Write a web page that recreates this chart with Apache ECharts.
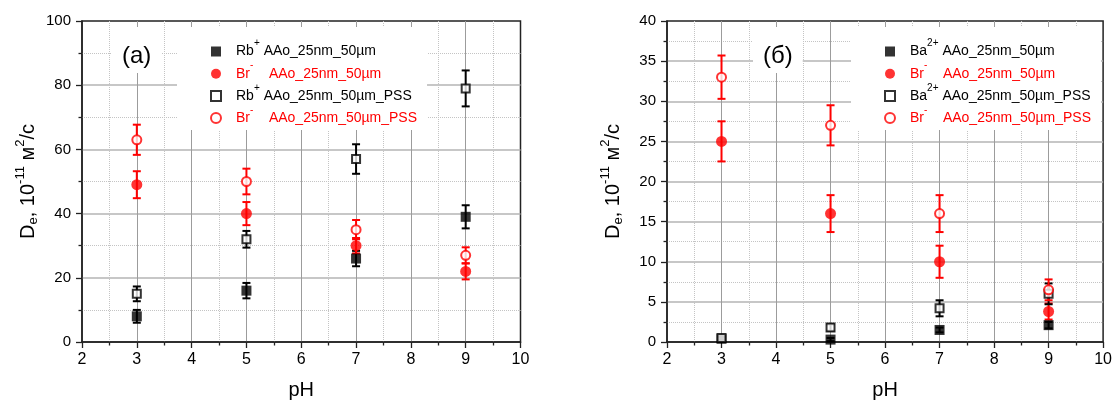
<!DOCTYPE html>
<html>
<head>
<meta charset="utf-8">
<script src="https://cdn.jsdelivr.net/npm/echarts@6/dist/echarts.min.js"></script>
<style>html,body{margin:0;padding:0;background:#fff;}#c{width:1115px;height:405px;}</style>
</head>
<body>
<div id="c"></div>
<script>
// ---- data ----
const pH = [3, 5, 7, 9];
const xTicks = [2, 3, 4, 5, 6, 7, 8, 9, 10];

// panel (a)
const namesA = ['Rb+ AAo_25nm_50µm', 'Br- AAo_25nm_50µm', 'Rb+ AAo_25nm_50µm_PSS', 'Br- AAo_25nm_50µm_PSS'];
const rbA = [8, 16, 26, 39];
const rbAErr = [2, 2.4, 2.4, 3.6];
const brA = [49, 40, 30, 22];
const brAErr = [4.2, 3.6, 2.4, 2.5];
const rbPssA = [15, 32, 57, 79];
const rbPssAErr = [2.3, 2.6, 4.6, 5.6];
const brPssA = [63, 50, 35, 27];
const brPssAErr = [4.7, 4, 3, 2.5];

// panel (б)
const namesB = ['Ba2+ AAo_25nm_50µm', 'Br- AAo_25nm_50µm ', 'Ba2+ AAo_25nm_50µm_PSS', 'Br- AAo_25nm_50µm_PSS '];
const baB = [0.4, 0.3, 1.5, 2.1];
const baBErr = [0.2, 0.2, 0.3, 0.4];
const brB = [25, 16, 10, 3.8];
const brBErr = [2.5, 2.3, 2, 1];
const baPssB = [0.5, 1.8, 4.2, 6.0];
const baPssBErr = [0.2, 0.4, 1, 1.3];
const brPssB = [33, 27, 16, 6.5];
const brPssBErr = [2.7, 2.5, 2.3, 1.3];

const F = '"Liberation Sans", Arial, sans-serif';
const RED = '#ff0000';
const BLK = '#000000';

function pts(v) { return pH.map((x, i) => [x, v[i]]); }
function errs(v, e) { return pH.map((x, i) => [x, v[i] - e[i], v[i] + e[i]]); }

function errRender(color) {
  return function (params, api) {
    const x = api.value(0), lo = api.value(1), hi = api.value(2);
    const a = api.coord([x, hi]);
    const b = api.coord([x, lo]);
    const w = 4;
    const st = { stroke: color, lineWidth: 2 };
    return {
      type: 'group',
      children: [
        { type: 'line', shape: { x1: a[0], y1: a[1], x2: b[0], y2: b[1] }, style: st },
        { type: 'line', shape: { x1: a[0] - w, y1: a[1], x2: a[0] + w, y2: a[1] }, style: st },
        { type: 'line', shape: { x1: b[0] - w, y1: b[1], x2: b[0] + w, y2: b[1] }, style: st }
      ]
    };
  };
}

const styles = [
  { symbol: 'rect', size: 10, itemStyle: { color: BLK }, err: BLK },
  { symbol: 'circle', size: 11, itemStyle: { color: RED }, err: RED },
  { symbol: 'rect', size: 8, itemStyle: { color: '#fff', borderColor: BLK, borderWidth: 2 }, err: BLK },
  { symbol: 'circle', size: 9, itemStyle: { color: '#fff', borderColor: RED, borderWidth: 2 }, err: RED }
];

function makeSeries(gi, names, vals, errsArr) {
  const out = [];
  vals.forEach((v, k) => {
    const s = styles[k];
    out.push({
      type: 'custom', name: 'err' + gi + k, xAxisIndex: gi, yAxisIndex: gi,
      renderItem: errRender(s.err), data: errs(v, errsArr[k]), z: 2,
      encode: { x: 0, y: [1, 2] }, silent: true
    });
    out.push({
      type: 'scatter', name: names[k], xAxisIndex: gi, yAxisIndex: gi,
      symbol: s.symbol, symbolSize: s.size, itemStyle: s.itemStyle,
      data: pts(v), z: 3, silent: true
    });
  });
  return out;
}

function legendFmt(name) {
  const t = name.trim();
  const sp = t.indexOf(' ');
  const ion = t.slice(0, sp);
  const rest = t.slice(sp + 1);
  const m = ion.match(/^([A-Za-z]+)(.*)$/);
  const red = m[1] === 'Br';
  const a = red ? 'r' : 'k';
  const gap = red ? '    ' : ' ';
  return '{' + a + '0|' + m[1] + '}{' + a + 's|' + m[2] + '}{' + a + '|' + gap + rest + '}';
}

const LFS = 14;
const legendRich = {
  k0: { fontSize: LFS, color: BLK, padding: [4, 0, 4, 10], fontFamily: F },
  k: { fontSize: LFS, color: BLK, padding: [4, 0, 4, 0], fontFamily: F },
  ks: { fontSize: 10, color: BLK, height: 6, verticalAlign: 'top', fontFamily: F },
  r0: { fontSize: LFS, color: RED, padding: [4, 0, 4, 10], fontFamily: F },
  r: { fontSize: LFS, color: RED, padding: [4, 0, 4, 0], fontFamily: F },
  rs: { fontSize: 10, color: RED, height: 6, verticalAlign: 'top', fontFamily: F }
};

function makeLegend(names, left) {
  return {
    orient: 'vertical', left: left, top: 27,
    backgroundColor: '#fff',
    padding: [11.5, 10, 5, 33],
    itemWidth: 10, itemHeight: 10, itemGap: 2.2,
    selectedMode: false,
    formatter: legendFmt,
    textStyle: { rich: legendRich, fontFamily: F },
    data: names.map((n, k) => ({
      name: n,
      icon: styles[k].symbol,
      itemStyle: styles[k].itemStyle
    }))
  };
}

const yName = '{m|D}{sub|e}{m|, 10}{sup|-11}{m| м}{sup|2}{m|/с}';
const yNameStyle = {
  rich: {
    m: { fontSize: 20, color: BLK, padding: [6, 0, 6, 0], fontFamily: F },
    sub: { fontSize: 13, color: BLK, height: 22, verticalAlign: 'bottom', fontFamily: F },
    sup: { fontSize: 13, color: BLK, height: 16, verticalAlign: 'top', fontFamily: F }
  }
};

function xAxisCfg(gi) {
  return {
    type: 'value', gridIndex: gi, min: xTicks[0], max: xTicks[xTicks.length - 1], interval: 1,
    name: 'pH', nameLocation: 'middle', nameGap: 38,
    nameTextStyle: { fontSize: 20, color: BLK, fontFamily: F },
    axisLine: { show: true, onZero: false, lineStyle: { color: '#222', width: 1.5 } },
    axisTick: { show: true, length: 6, lineStyle: { color: '#222', width: 1.3 } },
    minorTick: { show: true, splitNumber: 2, length: 3.5, lineStyle: { color: '#222', width: 1.3 } },
    axisLabel: { fontSize: 16, color: BLK, margin: 10, fontFamily: F },
    splitLine: { show: true, showMinLine: false, showMaxLine: false, lineStyle: { color: '#9c9c9c', width: 1 } },
    minorSplitLine: { show: true, lineStyle: { color: '#c4c4c4', width: 1, type: 'dotted' } }
  };
}

function yAxisCfg(gi, max, interval) {
  return {
    type: 'value', gridIndex: gi, min: 0, max: max, interval: interval,
    name: yName, nameLocation: 'middle', nameGap: 38, nameRotate: 90,
    nameTextStyle: yNameStyle,
    axisLine: { show: true, onZero: false, lineStyle: { color: '#222', width: 1.5 } },
    axisTick: { show: true, length: 6, lineStyle: { color: '#222', width: 1.3 } },
    minorTick: { show: true, splitNumber: 2, length: 3.5, lineStyle: { color: '#222', width: 1.3 } },
    axisLabel: { fontSize: 15, color: BLK, margin: 11, fontFamily: F },
    splitLine: { show: true, showMinLine: false, showMaxLine: false, lineStyle: { color: '#b4b4b4', width: 1.5 } },
    minorSplitLine: { show: true, lineStyle: { color: '#c4c4c4', width: 1, type: 'dotted' } }
  };
}

const chart = echarts.init(document.getElementById('c'), null, { renderer: 'canvas' });
chart.setOption({
  animation: false,
  backgroundColor: '#fff',
  textStyle: { fontFamily: F },
  title: [
    { text: '(a)', left: 112, top: 27, padding: [17, 10, 5, 10], backgroundColor: '#fff',
      textStyle: { fontSize: 24, fontWeight: 'normal', color: BLK, fontFamily: F } },
    { text: '(б)', left: 753, top: 27, padding: [17, 10, 5, 10], backgroundColor: '#fff',
      textStyle: { fontSize: 24, fontWeight: 'normal', color: BLK, fontFamily: F } }
  ],
  legend: [makeLegend(namesA, 177), makeLegend(namesB, 851)],
  grid: [
    { left: 82, top: 21, width: 438.5, height: 326.5, show: true, borderColor: '#222', borderWidth: 1.5, backgroundColor: 'transparent' },
    { left: 667, top: 21, width: 438, height: 326.5, show: true, borderColor: '#222', borderWidth: 1.5, backgroundColor: 'transparent' }
  ],
  xAxis: [xAxisCfg(0), xAxisCfg(1)],
  yAxis: [yAxisCfg(0, 100, 20), yAxisCfg(1, 40, 5)],
  series: [].concat(
    makeSeries(0, namesA, [rbA, brA, rbPssA, brPssA], [rbAErr, brAErr, rbPssAErr, brPssAErr]),
    makeSeries(1, namesB, [baB, brB, baPssB, brPssB], [baBErr, brBErr, baPssBErr, brPssBErr])
  )
});
</script>
</body>
</html>
